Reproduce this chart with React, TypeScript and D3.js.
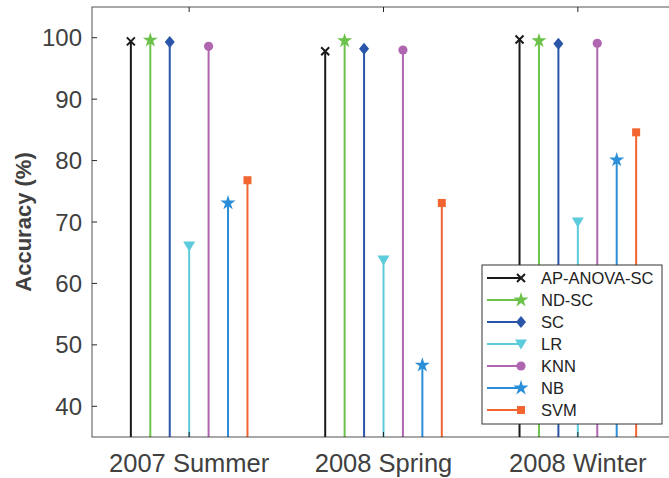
import React from 'react'
import * as d3 from 'd3'

const categories = ['2007 Summer', '2008 Spring', '2008 Winter']
const methods = ['AP-ANOVA-SC', 'ND-SC', 'SC', 'LR', 'KNN', 'NB', 'SVM']
const colors = ['#1a1a1a', '#6cc24a', '#2a55a8', '#5ccbdb', '#b065b0', '#2a8fd8', '#f26430']
const markers = ['x', 'star', 'diamond', 'triangle', 'circle', 'star', 'square']

// accuracy per method, one entry per category
const apAnovaSc = [99.4, 97.8, 99.7]
const ndSc = [99.6, 99.5, 99.5]
const sc = [99.3, 98.2, 99.0]
const lr = [66.1, 63.8, 70.0]
const knn = [98.6, 98.0, 99.1]
const nb = [73.1, 46.7, 80.1]
const svm = [76.8, 73.1, 84.6]
const series = [apAnovaSc, ndSc, sc, lr, knn, nb, svm]

const yTicks = [40, 50, 60, 70, 80, 90, 100]

function Marker({type, x, y, color}: {type: string; x: number; y: number; color: string}) {
  if (type === 'x') {
    const s = 4
    return (
      <path d={`M${x - s},${y - s}L${x + s},${y + s}M${x - s},${y + s}L${x + s},${y - s}`} stroke={color} strokeWidth={2} />
    )
  }
  if (type === 'star') {
    const star = d3.symbol().type(d3.symbolStar).size(70)
    return <path d={star() as string} transform={`translate(${x},${y})`} fill={color} />
  }
  if (type === 'diamond') {
    return <path d={`M${x},${y - 6}L${x + 5},${y}L${x},${y + 6}L${x - 5},${y}Z`} fill={color} />
  }
  if (type === 'triangle') {
    return <path d={`M${x - 6},${y - 4.5}L${x + 6},${y - 4.5}L${x},${y + 5.5}Z`} fill={color} />
  }
  if (type === 'circle') {
    return <circle cx={x} cy={y} r={4.6} fill={color} />
  }
  return <rect x={x - 4} y={y - 4} width={8} height={8} fill={color} />
}

export default function App() {
  const width = 669
  const height = 478
  const left = 92
  const right = 675
  const top = 7
  const bottom = 437

  const x = d3.scaleLinear().domain([0.5, 3.5]).range([left, right])
  const y = d3.scaleLinear().domain([35, 105]).range([bottom, top])
  const offsets = methods.map((_, i) => (i - 3) * 0.1)

  const axisColor = '#262626'
  const textColor = '#404040'
  const font = 'Liberation Sans, Arial, sans-serif'

  return (
    <svg width={width} height={height} style={{position: 'absolute', left: 0, top: 0, overflow: 'hidden'}}>
      <rect width={width} height={height} fill="#fff" />
      {/* stems */}
      {series.map((vals, si) =>
        vals.map((v, ci) => {
          const cx = x(ci + 1 + offsets[si])
          return (
            <g key={`${si}-${ci}`}>
              <line x1={cx} x2={cx} y1={bottom} y2={y(v)} stroke={colors[si]} strokeWidth={2} />
              <Marker type={markers[si]} x={cx} y={y(v)} color={colors[si]} />
            </g>
          )
        })
      )}
      {/* axes box */}
      <rect x={left} y={top} width={right - left} height={bottom - top} fill="none" stroke={axisColor} strokeWidth={1} opacity={0.8} />
      {yTicks.map(t => (
        <g key={t}>
          <line x1={left} x2={left + 5} y1={y(t)} y2={y(t)} stroke={axisColor} />
          <line x1={right - 6} x2={right} y1={y(t)} y2={y(t)} stroke={axisColor} />
          <text x={left - 10} y={y(t)} dy="0.36em" textAnchor="end" fontSize={24} fill={textColor} fontFamily={font}>
            {t}
          </text>
        </g>
      ))}
      {categories.map((c, i) => (
        <g key={c}>
          <line x1={x(i + 1)} x2={x(i + 1)} y1={bottom} y2={bottom - 5} stroke={axisColor} />
          <line x1={x(i + 1)} x2={x(i + 1)} y1={top} y2={top + 5} stroke={axisColor} />
          <text x={x(i + 1)} y={bottom + 35} textAnchor="middle" fontSize={25.5} fill={textColor} fontFamily={font}>
            {c}
          </text>
        </g>
      ))}
      <text
        transform={`translate(31,${(top + bottom) / 2}) rotate(-90)`}
        textAnchor="middle"
        fontSize={22}
        fontWeight="bold"
        fill={textColor}
        fontFamily={font}
      >
        Accuracy (%)
      </text>
      {/* legend */}
      <g>
        <rect x={482} y={265} width={180} height={159} fill="#fff" stroke="#333" strokeWidth={1} opacity={1} />
        {methods.map((m, i) => {
          const ly = 278 + i * 22
          return (
            <g key={m}>
              <line x1={487} x2={521} y1={ly} y2={ly} stroke={colors[i]} strokeWidth={2} />
              <Marker type={markers[i]} x={521} y={ly} color={colors[i]} />
              <text x={541} y={ly} dy="0.35em" fontSize={16.5} fill="#222" fontFamily={font}>
                {m}
              </text>
            </g>
          )
        })}
      </g>
    </svg>
  )
}
